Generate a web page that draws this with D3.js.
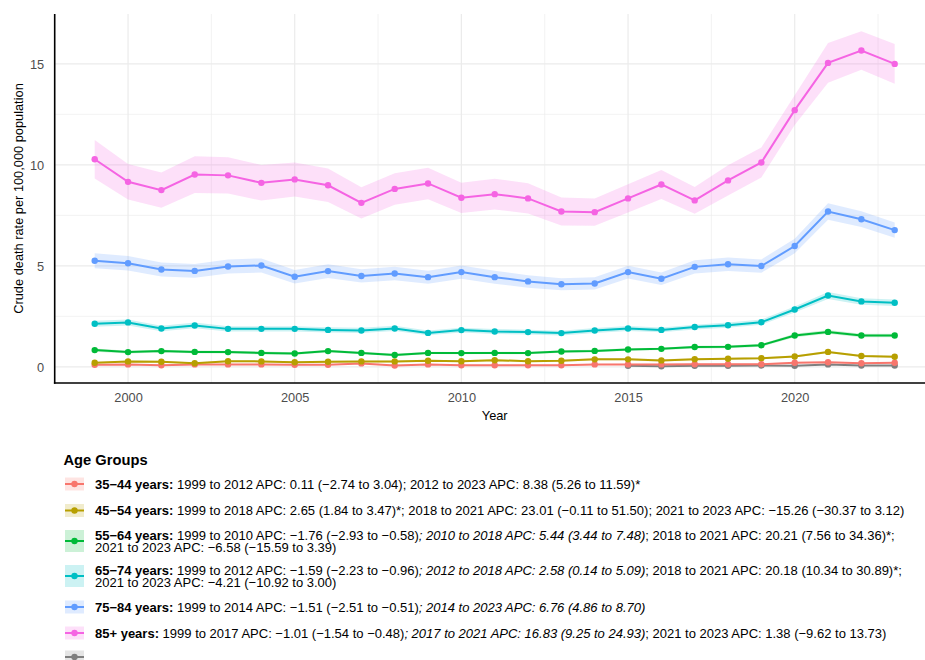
<!DOCTYPE html>
<html><head><meta charset="utf-8">
<script src="https://cdn.jsdelivr.net/npm/d3@7"></script>
<style>body{margin:0;background:#fff}svg{display:block;font-family:"Liberation Sans",Arial,sans-serif}</style>
</head><body><svg id="c" width="925" height="660"></svg>
<script>
const years = [1999,2000,2001,2002,2003,2004,2005,2006,2007,2008,2009,2010,2011,2012,2013,2014,2015,2016,2017,2018,2019,2020,2021,2022,2023];
const groups = ["35\u221244 years","45\u221254 years","55\u221264 years","65\u221274 years","75\u221284 years","85+ years","NA"];
const colors = ["#F8766D","#B79F00","#00BA38","#00BFC4","#619CFF","#F564E3","#7F7F7F"];
const rate3544 = [0.10,0.12,0.08,0.12,0.12,0.12,0.10,0.10,0.17,0.07,0.12,0.08,0.08,0.08,0.08,0.12,0.12,0.12,0.13,0.13,0.13,0.20,0.23,0.18,0.20];
const rate4554 = [0.20,0.27,0.25,0.18,0.28,0.27,0.23,0.25,0.27,0.27,0.30,0.28,0.33,0.28,0.30,0.37,0.37,0.32,0.38,0.40,0.43,0.51,0.74,0.54,0.50];
const rate5564 = [0.83,0.73,0.78,0.74,0.73,0.69,0.66,0.78,0.69,0.59,0.69,0.68,0.69,0.68,0.76,0.79,0.86,0.89,0.98,0.99,1.07,1.55,1.73,1.55,1.55];
const rate6574 = [2.13,2.20,1.90,2.05,1.88,1.88,1.88,1.83,1.80,1.90,1.68,1.82,1.75,1.72,1.67,1.80,1.90,1.83,1.97,2.06,2.21,2.84,3.53,3.24,3.17];
const rate7584 = [5.25,5.13,4.82,4.75,4.97,5.02,4.46,4.74,4.50,4.62,4.44,4.69,4.44,4.23,4.09,4.13,4.69,4.36,4.95,5.08,4.99,5.98,7.69,7.31,6.77];
const rate85   = [10.28,9.16,8.75,9.52,9.48,9.11,9.28,8.99,8.12,8.81,9.08,8.37,8.55,8.34,7.69,7.66,8.34,9.03,8.24,9.23,10.12,12.71,15.05,15.66,15.00];
const rateNA   = [null,null,null,null,null,null,null,null,null,null,null,null,null,null,null,null,0.05,0.03,0.05,0.05,0.07,0.05,0.12,0.07,0.07];
// half-width of 95% CI read from the ribbons
const ci3544 = [0.03,0.03,0.03,0.03,0.03,0.03,0.03,0.03,0.03,0.03,0.03,0.03,0.03,0.03,0.03,0.03,0.03,0.03,0.03,0.03,0.03,0.04,0.04,0.04,0.04];
const ci4554 = [0.04,0.05,0.05,0.04,0.05,0.05,0.04,0.05,0.05,0.05,0.05,0.05,0.05,0.05,0.05,0.05,0.05,0.05,0.05,0.05,0.05,0.05,0.06,0.05,0.05];
const ci5564 = [0.08,0.07,0.07,0.07,0.07,0.07,0.06,0.07,0.06,0.06,0.06,0.06,0.06,0.06,0.06,0.06,0.06,0.06,0.07,0.07,0.07,0.09,0.09,0.09,0.09];
const ci6574 = [0.15,0.15,0.14,0.14,0.13,0.13,0.13,0.13,0.13,0.13,0.12,0.12,0.12,0.12,0.12,0.12,0.12,0.12,0.12,0.13,0.13,0.15,0.17,0.16,0.16];
const ci7584 = [0.37,0.36,0.35,0.34,0.35,0.35,0.33,0.34,0.33,0.33,0.32,0.33,0.32,0.31,0.30,0.30,0.32,0.31,0.33,0.33,0.33,0.36,0.41,0.39,0.38];
const ci85   = [0.95,0.88,0.87,0.91,0.90,0.88,0.84,0.83,0.77,0.78,0.78,0.75,0.76,0.75,0.69,0.68,0.70,0.72,0.66,0.75,0.74,0.74,0.99,0.95,0.98];
const ciNA   = [null,null,null,null,null,null,null,null,null,null,null,null,null,null,null,null,0.02,0.02,0.02,0.02,0.02,0.02,0.02,0.02,0.02];
const xTicks = [2000,2005,2010,2015,2020];
const yTicks = [0,5,10,15];
const legendTitle = "Age Groups";
// legend label segments: [text, style] where b=bold, i=italic, n=normal; "|" marks a line break
const legendLabels = [
  [["35\u221244 years:","b"],[" 1999 to 2012 APC: 0.11 (\u22122.74 to 3.04); 2012 to 2023 APC: 8.38 (5.26 to 11.59)*","n"]],
  [["45\u221254 years:","b"],[" 1999 to 2018 APC: 2.65 (1.84 to 3.47)*; 2018 to 2021 APC: 23.01 (\u22120.11 to 51.50); 2021 to 2023 APC: \u221215.26 (\u221230.37 to 3.12)","n"]],
  [["55\u221264 years:","b"],[" 1999 to 2010 APC: \u22121.76 (\u22122.93 to \u22120.58)","n"],["; 2010 to 2018 APC: 5.44 (3.44 to 7.48)","i"],["; 2018 to 2021 APC: 20.21 (7.56 to 34.36)*;","n"],["|",""],["2021 to 2023 APC: \u22126.58 (\u221215.59 to 3.39)","n"]],
  [["65\u221274 years:","b"],[" 1999 to 2012 APC: \u22121.59 (\u22122.23 to \u22120.96)","n"],["; 2012 to 2018 APC: 2.58 (0.14 to 5.09)","i"],["; 2018 to 2021 APC: 20.18 (10.34 to 30.89)*;","n"],["|",""],["2021 to 2023 APC: \u22124.21 (\u221210.92 to 3.00)","n"]],
  [["75\u221284 years:","b"],[" 1999 to 2014 APC: \u22121.51 (\u22122.51 to \u22120.51)","n"],["; 2014 to 2023 APC: 6.76 (4.86 to 8.70)","i"]],
  [["85+ years:","b"],[" 1999 to 2017 APC: \u22121.01 (\u22121.54 to \u22120.48)","n"],["; 2017 to 2021 APC: 16.83 (9.25 to 24.93)","i"],["; 2021 to 2023 APC: 1.38 (\u22129.62 to 13.73)","n"]],
  []
];

const rates = [rate3544,rate4554,rate5564,rate6574,rate7584,rate85,rateNA];
const cis = [ci3544,ci4554,ci5564,ci6574,ci7584,ci85,ciNA];
const series = groups.map((g,i)=>({name:g,color:colors[i],
  pts:years.map((y,j)=>({year:y,v:rates[i][j],h:cis[i][j]})).filter(d=>d.v!=null)}));

const svg = d3.select("#c");
const fs = 12.8, lfs = 13.0;
const x = d3.scaleLinear().domain([1997.8,2024.2]).range([54.7,934.7]);
const y = d3.scaleLinear().domain([-0.8,17.47]).range([383,14]);

// grid
const g = svg.append("g");
const xMinor = d3.range(1997.5,2025,2.5).filter(v=>v%5!==0 && v>x.domain()[0]);
const yMinor = [2.5,7.5,12.5];
g.selectAll(".xm").data(xMinor).join("line").attr("x1",d=>x(d)).attr("x2",d=>x(d)).attr("y1",14).attr("y2",383).attr("stroke","#ebebeb").attr("stroke-width",0.6);
g.selectAll(".ym").data(yMinor).join("line").attr("y1",d=>y(d)).attr("y2",d=>y(d)).attr("x1",54.7).attr("x2",925).attr("stroke","#ebebeb").attr("stroke-width",0.6);
g.selectAll(".xM").data(xTicks).join("line").attr("x1",d=>x(d)).attr("x2",d=>x(d)).attr("y1",14).attr("y2",383).attr("stroke","#ebebeb").attr("stroke-width",1.2);
g.selectAll(".yM").data(yTicks).join("line").attr("y1",d=>y(d)).attr("y2",d=>y(d)).attr("x1",54.7).attr("x2",925).attr("stroke","#ebebeb").attr("stroke-width",1.2);

const drawOrder = [6,0,1,2,3,4,5];
const area = d3.area().x(d=>x(d.year)).y0(d=>y(d.v-d.h)).y1(d=>y(d.v+d.h));
const line = d3.line().x(d=>x(d.year)).y(d=>y(d.v));
drawOrder.forEach(i=>{ const s=series[i];
  svg.append("path").datum(s.pts).attr("d",area).attr("fill",s.color).attr("fill-opacity",0.2);
});
drawOrder.forEach(i=>{ const s=series[i];
  svg.append("path").datum(s.pts).attr("d",line).attr("fill","none").attr("stroke",s.color).attr("stroke-width",2);
});
drawOrder.forEach(i=>{ const s=series[i];
  svg.append("g").selectAll("circle").data(s.pts).join("circle").attr("cx",d=>x(d.year)).attr("cy",d=>y(d.v)).attr("r",3.2).attr("fill",s.color);
});

// axes
const xAx = svg.append("g").attr("transform","translate(0,383)").call(d3.axisBottom(x).tickValues(xTicks).tickFormat(d3.format("d")).tickSize(0).tickPadding(0));
xAx.select(".domain").remove();
xAx.selectAll("text").attr("dy",null).attr("y",19.3).attr("fill","#4d4d4d").style("font-size",fs+"px").style("font-family","Liberation Sans, Arial, sans-serif");
const yAx = svg.append("g").attr("transform","translate(54.7,0)").call(d3.axisLeft(y).tickValues(yTicks).tickSize(0).tickPadding(0));
yAx.select(".domain").remove();
yAx.selectAll("text").attr("x",-10.5).attr("dy","0.35em").attr("fill","#4d4d4d").style("font-size",fs+"px").style("font-family","Liberation Sans, Arial, sans-serif");
svg.append("line").attr("x1",54.7).attr("x2",54.7).attr("y1",14).attr("y2",383.8).attr("stroke","#000").attr("stroke-width",1.6);
svg.append("line").attr("x1",53.9).attr("x2",925).attr("y1",383).attr("y2",383).attr("stroke","#000").attr("stroke-width",1.6);

svg.append("text").attr("x",494.7).attr("y",419.5).attr("text-anchor","middle").style("font-size",fs+"px").text("Year");
svg.append("text").attr("transform","translate(22.8,198.5) rotate(-90)").attr("text-anchor","middle").style("font-size",fs+"px").text("Crude death rate per 100,000 population");

// legend
svg.append("text").attr("x",63.5).attr("y",465.3).style("font-size","14.7px").style("font-weight","bold").text(legendTitle);
const rowCenters = [484,510.5,541,576,607,633,657];
const rowHeights = [13,13,22,22,13,13,13];
series.forEach((s,i)=>{
  const cy=rowCenters[i], h=rowHeights[i];
  svg.append("rect").attr("x",65).attr("y",cy-h/2).attr("width",19).attr("height",h).attr("fill",s.color).attr("fill-opacity",0.2);
  svg.append("line").attr("x1",65).attr("x2",84).attr("y1",cy).attr("y2",cy).attr("stroke",s.color).attr("stroke-width",2);
  svg.append("circle").attr("cx",74.5).attr("cy",cy).attr("r",3.2).attr("fill",s.color);
  const segs = legendLabels[i];
  if(!segs.length) return;
  const nLines = segs.some(d=>d[0]==="|")?2:1;
  const lh = 12;
  let base = cy + 4.5 - (nLines-1)*lh/2;
  const t = svg.append("text").attr("x",95).attr("y",base).style("font-size",lfs+"px");
  let newLine=false;
  segs.forEach(([txt,st])=>{
    if(txt==="|"){newLine=true;return;}
    const ts=t.append("tspan").text(txt).attr("font-weight",st==="b"?"bold":"normal").attr("font-style",st==="i"?"italic":"normal");
    if(newLine){ts.attr("x",95).attr("dy",lh);newLine=false;}
  });
});
</script></body></html>
